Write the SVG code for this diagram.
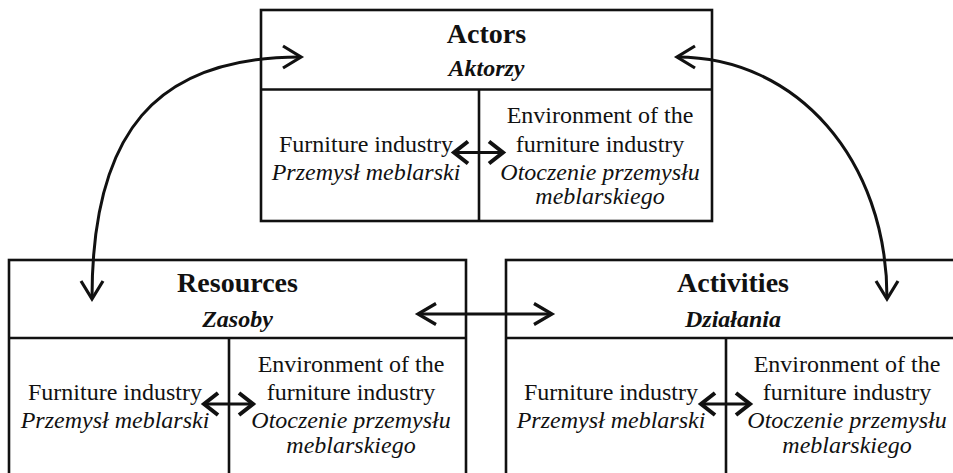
<svg xmlns="http://www.w3.org/2000/svg" width="953" height="473" viewBox="0 0 953 473">
<style>
.box{fill:none;stroke:#111;stroke-width:2.6}
.t{font-family:"Liberation Serif","Times New Roman",serif;fill:#111;text-anchor:middle}
.h{font-size:28px;font-weight:bold}
.hs{font-size:24px;font-weight:bold;font-style:italic}
.b{font-size:24px}
.i{font-size:24px;font-style:italic}
.con{fill:none;stroke:#111;stroke-width:3}
.head{fill:none;stroke:#111;stroke-width:3.2;stroke-linecap:butt;stroke-linejoin:miter}
.sh{fill:none;stroke:#111;stroke-width:4;stroke-linejoin:miter}
</style>
<rect width="953" height="473" fill="#fff"/>
<g id="actors">
<rect class="box" x="261" y="10" width="451" height="211"/>
<line class="box" x1="261" y1="89.5" x2="712" y2="89.5"/>
<line class="box" x1="479" y1="89.5" x2="479" y2="221"/>
<text class="t h" x="486.5" y="43">Actors</text>
<text class="t hs" x="486.5" y="75.5">Aktorzy</text>
<text class="t b" x="366" y="151.5">Furniture industry</text>
<text class="t i" x="366" y="180">Przemysł meblarski</text>
<text class="t b" x="600" y="123">Environment of the</text>
<text class="t b" x="600" y="151.5">furniture industry</text>
<text class="t i" x="600" y="180">Otoczenie przemysłu</text>
<text class="t i" x="600" y="203.5">meblarskiego</text>
</g>
<g id="resources">
<rect class="box" x="9" y="260" width="457" height="230"/>
<line class="box" x1="9" y1="338" x2="466" y2="338"/>
<line class="box" x1="229" y1="338" x2="229" y2="490"/>
<text class="t h" x="237.5" y="292">Resources</text>
<text class="t hs" x="237.5" y="326.5">Zasoby</text>
<text class="t b" x="115" y="399.5">Furniture industry</text>
<text class="t i" x="115" y="428">Przemysł meblarski</text>
<text class="t b" x="351" y="371.5">Environment of the</text>
<text class="t b" x="351" y="399.5">furniture industry</text>
<text class="t i" x="351" y="428">Otoczenie przemysłu</text>
<text class="t i" x="351" y="452.5">meblarskiego</text>
</g>
<g id="activities">
<rect class="box" x="506" y="260" width="457" height="230"/>
<line class="box" x1="506" y1="338" x2="963" y2="338"/>
<line class="box" x1="726" y1="338" x2="726" y2="490"/>
<text class="t h" x="733" y="292">Activities</text>
<text class="t hs" x="733" y="326.5">Działania</text>
<text class="t b" x="611" y="399.5">Furniture industry</text>
<text class="t i" x="611" y="428">Przemysł meblarski</text>
<text class="t b" x="847" y="371.5">Environment of the</text>
<text class="t b" x="847" y="399.5">furniture industry</text>
<text class="t i" x="847" y="428">Otoczenie przemysłu</text>
<text class="t i" x="847" y="452.5">meblarskiego</text>
</g>
<g id="connectors">
<path class="con" d="M 300 57 C 155 57, 92 133, 92 298"/>
<path class="head" d="M 283 46 L 301 57 L 283 68"/>
<path class="head" d="M 81 281 L 92 299 L 103 281"/>
<path class="con" d="M 677 57 C 797 57, 887 160, 887 298"/>
<path class="head" d="M 695 46 L 677 57 L 695 68"/>
<path class="head" d="M 876 281 L 887 299 L 898 281"/>
<path class="con" d="M 419 314 L 551 314"/>
<path class="head" d="M 436 303.5 L 418 314 L 436 324.5"/>
<path class="head" d="M 534 303.5 L 552 314 L 534 324.5"/>
<path class="con" d="M 455 152.5 L 502 152.5"/>
<path class="sh" d="M 468 141.5 L 454 152.5 L 468 163.5"/>
<path class="sh" d="M 489 141.5 L 503 152.5 L 489 163.5"/>
<path class="con" d="M 205 404 L 252 404"/>
<path class="sh" d="M 218 393 L 204 404 L 218 415"/>
<path class="sh" d="M 239 393 L 253 404 L 239 415"/>
<path class="con" d="M 702 404 L 749 404"/>
<path class="sh" d="M 715 393 L 701 404 L 715 415"/>
<path class="sh" d="M 736 393 L 750 404 L 736 415"/>
</g>
</svg>
